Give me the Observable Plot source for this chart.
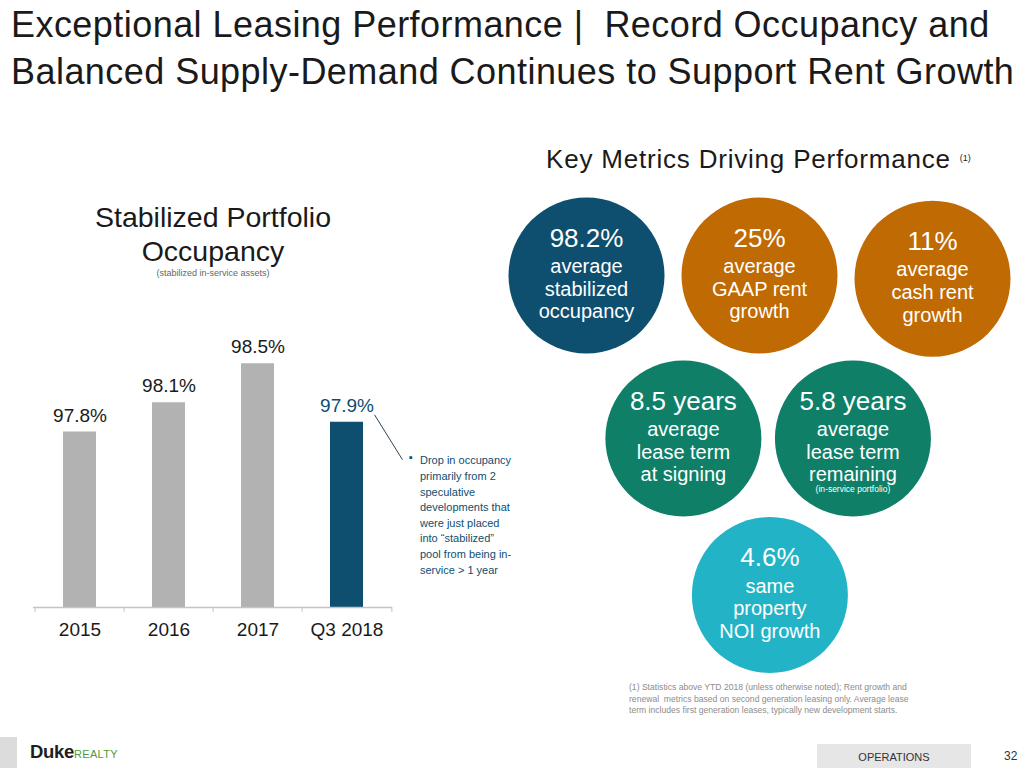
<!DOCTYPE html>
<html><head><meta charset="utf-8">
<script src="https://cdn.jsdelivr.net/npm/d3@7"></script>
<script src="https://cdn.jsdelivr.net/npm/@observablehq/plot@0.6"></script>
<style>
body{margin:0;background:#fff;}
#page{position:relative;width:1024px;height:768px;overflow:hidden;font-family:"Liberation Sans",Arial,sans-serif;color:#1a1a1a;background:#fff;}
.abs{position:absolute;}
#title{left:11px;top:1px;font-size:36px;letter-spacing:0.45px;line-height:47px;white-space:nowrap;color:#1a1a1a;}
#kmd{left:546px;top:144px;font-size:26px;letter-spacing:0.8px;line-height:30px;white-space:nowrap;}
#kmd sup{font-size:9px;letter-spacing:0;vertical-align:top;position:relative;top:-1px;margin-left:9px;}
#btitle{left:13px;top:200px;width:400px;text-align:center;font-size:28.5px;line-height:34px;}
#bsub{left:13px;top:267px;width:400px;text-align:center;font-size:9px;line-height:12px;color:#666;}
#bars{left:0;top:280px;}
#bubbles{left:500px;top:180px;}
#foot{left:629px;top:682px;font-size:8.6px;line-height:11.6px;color:#8c8c8c;white-space:nowrap;}
#opsbox{left:817px;top:744px;width:154px;height:24px;background:#e6e6e6;font-size:11px;line-height:27px;text-align:center;color:#333;}
#pagenum{left:1004px;top:749px;font-size:12px;color:#333;}
#logobar{left:0;top:737px;width:17px;height:31px;background:#dcdcdc;}
#logo{left:30px;top:742px;white-space:nowrap;line-height:20px;}
#logo .d{font-family:"Liberation Sans",Arial,sans-serif;font-weight:bold;font-size:18.5px;color:#1e1e1e;letter-spacing:-0.3px;}
#logo .r{font-family:"Liberation Sans",Arial,sans-serif;font-size:11px;color:#4f9a3a;letter-spacing:0.3px;}
</style></head><body>
<div id="page">
  <div id="title" class="abs">Exceptional Leasing Performance |&nbsp; Record Occupancy and<br>Balanced Supply-Demand Continues to Support Rent Growth</div>
  <div id="kmd" class="abs">Key Metrics Driving Performance<sup>(1)</sup></div>
  <div id="btitle" class="abs">Stabilized Portfolio<br>Occupancy</div>
  <div id="bsub" class="abs">(stabilized in-service assets)</div>
  <div id="bars" class="abs"></div>
  <div id="bubbles" class="abs"></div>
  <div id="foot" class="abs">(1) Statistics above YTD 2018 (unless otherwise noted); Rent growth and<br>renewal&nbsp; metrics based on second generation leasing only. Average lease<br>term includes first generation leases, typically new development starts.</div>
  <div id="logobar" class="abs"></div>
  <div id="logo" class="abs"><span class="d">Duke</span><span class="r">REALTY</span></div>
  <div id="opsbox" class="abs">OPERATIONS</div>
  <div id="pagenum" class="abs">32</div>
</div>
<script>
// ---------- data ----------
const years = ["2015", "2016", "2017", "Q3 2018"];
const occupancy = [97.8, 98.1, 98.5, 97.9];
const highlightYear = "Q3 2018";
const axisFloor = 96;
const axisCeil = 99;
const noteLines = [
  "Drop in occupancy",
  "primarily from 2",
  "speculative",
  "developments that",
  "were just placed",
  "into \u201cstabilized\u201d",
  "pool from being in-",
  "service > 1 year"
];

const metricValues = ["98.2%", "25%", "11%", "8.5 years", "5.8 years", "4.6%"];
const metricLabels = [
  "average\nstabilized\noccupancy",
  "average\nGAAP rent\ngrowth",
  "average\ncash rent\ngrowth",
  "average\nlease term\nat signing",
  "average\nlease term\nremaining",
  "same\nproperty\nNOI growth"
];
const metricNotes = ["", "", "", "", "(in-service portfolio)", ""];
const metricGroups = ["occupancy", "rent", "rent", "lease", "lease", "noi"];

// ---------- layout & style (kept apart from data) ----------
const bubbleSlots = [[0, 0], [1, 0], [2, 0.02], [0.56, 1], [1.54, 1], [1.06, 1.96]];
const GREY = "#b2b2b2", NAVY = "#0e4e6f";
const groupColor = {occupancy: NAVY, rent: "#bf6a03", lease: "#0f7f68", noi: "#23b3c6"};
const FONT = "Liberation Sans, Arial, sans-serif";

// ---------- bar chart ----------
const bars = years.map((year, i) => ({year, value: occupancy[i]}));
const W = 520, H = 370, mL = 33, mR = 128, mT = 34.5, mB = 43;
const step = (W - mL - mR) / years.length;
const pxPerUnit = (H - mT - mB) / (axisCeil - axisFloor);
const tickLen = 5 / pxPerUnit;
const hv = occupancy[years.indexOf(highlightYear)];

// custom mark: leader line from the highlighted label to the note, placed with the chart's scales
function connector(...args) {
  const s = args.find(a => a && typeof a.x === "function" && typeof a.y === "function");
  const x = s.x, y = s.y;
  const cx = x(highlightYear) + (x.bandwidth ? x.bandwidth() / 2 : 0);
  const cy = y(hv);
  return d3.create("svg:line")
    .attr("x1", cx + 28).attr("y1", cy - 7)
    .attr("x2", cx + 56).attr("y2", cy + 38)
    .attr("stroke", "#2b4656").attr("stroke-width", 1)
    .node();
}

const barChart = Plot.plot({
  width: W, height: H,
  marginLeft: mL, marginRight: mR, marginTop: mT, marginBottom: mB,
  style: {fontFamily: FONT, fontSize: "19px", color: "#1a1a1a", background: "transparent", overflow: "visible"},
  x: {type: "band", domain: years, paddingInner: 0.63, paddingOuter: 0.315, tickSize: 0, tickPadding: 15, label: null},
  y: {domain: [axisFloor, axisCeil], axis: null},
  color: {type: "identity"},
  marks: [
    Plot.barY(bars, {x: "year", y1: axisFloor, y2: "value", fill: d => d.year === highlightYear ? NAVY : GREY}),
    Plot.ruleY([axisFloor], {stroke: "#c4c4c4", strokeWidth: 1.3}),
    Plot.ruleX(years, {x: d => d, y1: axisFloor, y2: axisFloor - tickLen, dx: -step / 2, stroke: "#c4c4c4"}),
    Plot.ruleX([years[years.length - 1]], {x: d => d, y1: axisFloor, y2: axisFloor - tickLen, dx: step / 2, stroke: "#c4c4c4"}),
    Plot.text(bars, {x: "year", y: "value", text: d => d.value.toFixed(1) + "%", dy: -16.5, fontSize: 19,
      fill: d => d.year === highlightYear ? NAVY : "#1a1a1a"}),
    Plot.text([noteLines.join("\n")], {x: () => highlightYear, y: () => hv, text: d => d, dx: 73, dy: 31,
      textAnchor: "start", lineAnchor: "top", lineHeight: 1.418, fontSize: 11, fill: NAVY}),
    Plot.text(["\u25aa"], {x: () => highlightYear, y: () => hv, text: d => d, dx: 64, dy: 35, fontSize: 11, fill: NAVY}),
    connector
  ]
});
document.getElementById("bars").appendChild(barChart);

// ---------- bubbles ----------
const metrics = metricValues.map((value, i) => ({
  value, label: metricLabels[i], note: metricNotes[i], group: metricGroups[i],
  col: bubbleSlots[i][0], row: bubbleSlots[i][1]
}));

const bubbleChart = Plot.plot({
  width: 524, height: 520,
  marginLeft: 0, marginRight: 0, marginTop: 0, marginBottom: 0,
  style: {fontFamily: FONT, background: "transparent", overflow: "visible"},
  x: {domain: [0, 2], range: [86, 432], axis: null},
  y: {domain: [0, 2], range: [95, 421], axis: null},
  color: {type: "identity"},
  marks: [
    Plot.dot(metrics, {x: "col", y: "row", r: 78, fill: d => groupColor[d.group], stroke: null}),
    Plot.text(metrics, {x: "col", y: "row", text: "value", dy: -37, fontSize: 26, fill: "white"}),
    Plot.text(metrics, {x: "col", y: "row", text: "label", dy: 13, fontSize: 20, lineHeight: 1.13, fill: "white"}),
    Plot.text(metrics.filter(d => d.note), {x: "col", y: "row", text: "note", dy: 51, fontSize: 8.5, fill: "white"})
  ]
});
document.getElementById("bubbles").appendChild(bubbleChart);
</script>
</body></html>
